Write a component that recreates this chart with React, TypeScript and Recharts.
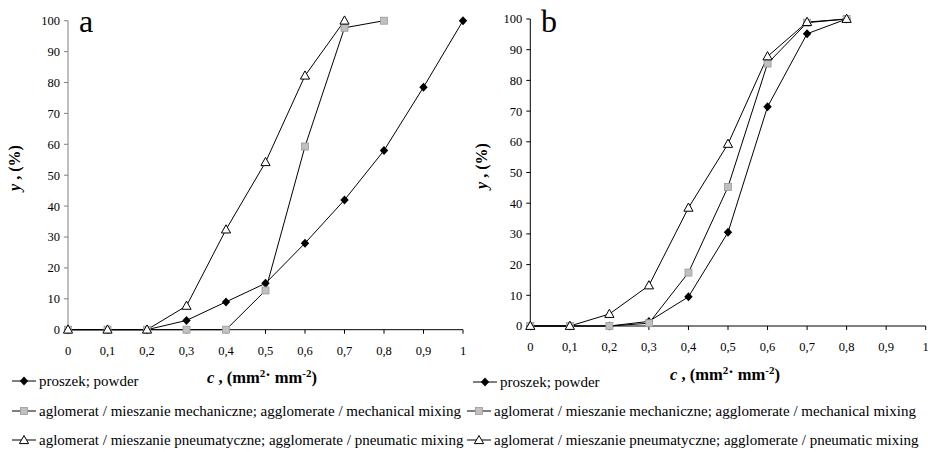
import React from 'react';
import { LineChart, Line, XAxis, YAxis } from 'recharts';

const cValues = [0, 0.1, 0.2, 0.3, 0.4, 0.5, 0.6, 0.7, 0.8, 0.9, 1];
const xTicks = [0, 0.1, 0.2, 0.3, 0.4, 0.5, 0.6, 0.7, 0.8, 0.9, 1];
const yTicks = [0, 10, 20, 30, 40, 50, 60, 70, 80, 90, 100];

// chart a
const aPowder = [0, 0, 0, 3, 9, 15, 28, 42, 58, 78.5, 100];
const aMechanical = [0, 0, 0, 0, 0, 12.7, 59.3, 97.7, 100];
const aPneumatic = [0, 0, 0, 7.7, 32.4, 54.2, 82.2, 100];

// chart b
const bPowder = [0, 0, 0, 1.5, 9.5, 30.5, 71.4, 95.2, 100];
const bMechanical = [0, 0, 0, 0.9, 17.4, 45.3, 85.5, 98.8, 100];
const bPneumatic = [0, 0, 3.9, 13.2, 38.5, 59.3, 87.8, 99, 100];

const seriesNames = [
  'proszek; powder',
  'aglomerat / mieszanie mechaniczne; agglomerate / mechanical mixing',
  'aglomerat / mieszanie pneumatyczne; agglomerate / pneumatic mixing',
];

const buildRows = (p: number[], m: number[], n: number[]) =>
  cValues.map((c, i) => ({ c, powder: p[i], mech: m[i], pneu: n[i] }));

const dataA = buildRows(aPowder, aMechanical, aPneumatic);
const dataB = buildRows(bPowder, bMechanical, bPneumatic);

const FONT = "'Liberation Serif', 'Times New Roman', Times, serif";

const DiamondDot = (props: any) => {
  const { cx, cy, index } = props;
  if (cx == null || cy == null) return <g key={'d' + index} />;
  return (
    <path
      key={'d' + index}
      d={`M${cx},${cy - 4.5}L${cx + 4.2},${cy}L${cx},${cy + 4.5}L${cx - 4.2},${cy}Z`}
      fill="#000"
    />
  );
};
const SquareDot = (props: any) => {
  const { cx, cy, index } = props;
  if (cx == null || cy == null) return <g key={'s' + index} />;
  return (
    <rect key={'s' + index} x={cx - 3.5} y={cy - 3.5} width={7} height={7} fill="#C0C0C0" stroke="#999" strokeWidth={0.8} />
  );
};
const TriangleDot = (props: any) => {
  const { cx, cy, index } = props;
  if (cx == null || cy == null) return <g key={'t' + index} />;
  return (
    <path
      key={'t' + index}
      d={`M${cx},${cy - 4.8}L${cx + 4.6},${cy + 3.4}L${cx - 4.6},${cy + 3.4}Z`}
      fill="#fff"
      stroke="#000"
      strokeWidth={1}
    />
  );
};

const fmt = (v: number) => String(v).replace('.', ',');

type PanelProps = {
  data: any[];
  left: number;
  width: number;
  yAxisWidth: number;
  marginRight: number;
  marginTop: number;
  marginBottom: number;
  yAxisColor: string;
};

const Panel = ({ data, left, width, yAxisWidth, marginRight, marginTop, marginBottom, yAxisColor }: PanelProps) => (
  <div style={{ position: 'absolute', left, top: 0 }}>
    <LineChart
      width={width}
      height={452}
      data={data}
      margin={{ top: marginTop, right: marginRight, left: 0, bottom: marginBottom }}
      style={{ fontFamily: FONT }}
    >
      <XAxis
        dataKey="c"
        type="number"
        domain={[0, 1]}
        ticks={xTicks}
        tickFormatter={fmt}
        tickSize={4}
        tickMargin={12}
        height={30}
        stroke="#000"
        tick={{ fill: '#000', fontSize: 12.5, fontFamily: FONT }}
        interval={0}
      />
      <YAxis
        type="number"
        domain={[0, 100]}
        ticks={yTicks}
        tickSize={4}
        tickMargin={4}
        width={yAxisWidth}
        stroke={yAxisColor}
        tick={{ fill: '#000', fontSize: 12.5, fontFamily: FONT }}
        interval={0}
      />
      <Line dataKey="powder" stroke="#000" strokeWidth={1} dot={DiamondDot} isAnimationActive={false} />
      <Line dataKey="mech" stroke="#000" strokeWidth={1} dot={SquareDot} isAnimationActive={false} />
      <Line dataKey="pneu" stroke="#000" strokeWidth={1} dot={TriangleDot} isAnimationActive={false} />
    </LineChart>
  </div>
);

const LegendMarker = ({ kind }: { kind: number }) => (
  <svg width={26} height={12} style={{ display: 'block', flex: 'none' }}>
    <line x1={1} y1={6} x2={25} y2={6} stroke="#000" strokeWidth={1} />
    {kind === 0 && <path d="M13,1.5L17.2,6L13,10.5L8.8,6Z" fill="#000" />}
    {kind === 1 && <rect x={9.5} y={2.5} width={7} height={7} fill="#C0C0C0" stroke="#999" strokeWidth={0.8} />}
    {kind === 2 && <path d="M13,1.5L17.6,9.6L8.4,9.6Z" fill="#fff" stroke="#000" strokeWidth={1} />}
  </svg>
);

const LegendRow = ({ kind, x, y }: { kind: number; x: number; y: number }) => (
  <div
    style={{
      position: 'absolute',
      left: x,
      top: y - 9,
      height: 18,
      display: 'flex',
      alignItems: 'center',
      whiteSpace: 'nowrap',
      fontFamily: FONT,
      fontSize: 15,
      color: '#000',
    }}
  >
    <LegendMarker kind={kind} />
    <span style={{ marginLeft: 2 }}>{seriesNames[kind]}</span>
  </div>
);

const YTitle = ({ cx, cy }: { cx: number; cy: number }) => (
  <div
    style={{
      position: 'absolute',
      left: cx,
      top: cy,
      transform: 'translate(-50%, -50%) rotate(-90deg)',
      whiteSpace: 'nowrap',
      fontFamily: FONT,
      fontWeight: 'bold',
      fontSize: 16,
      lineHeight: '18px',
    }}
  >
    <i>y</i> , (%)
  </div>
);

const XTitle = ({ cx, cy }: { cx: number; cy: number }) => (
  <div
    style={{
      position: 'absolute',
      left: cx,
      top: cy,
      transform: 'translate(-50%, -50%)',
      whiteSpace: 'nowrap',
      fontFamily: FONT,
      fontWeight: 'bold',
      fontSize: 16.5,
      lineHeight: '20px',
    }}
  >
    <i>c</i> , (mm<sup style={{ fontSize: 11, verticalAlign: '6px' }}>2</sup>
    <span style={{ verticalAlign: '3px' }}>·</span> mm<sup style={{ fontSize: 11, verticalAlign: '6px' }}>-2</sup>)
  </div>
);

const PanelLetter = ({ x, text }: { x: number; text: string }) => (
  <div
    style={{
      position: 'absolute',
      left: x,
      top: 5,
      fontFamily: FONT,
      fontSize: 32,
      lineHeight: '32px',
    }}
  >
    {text}
  </div>
);

export default function App() {
  return (
    <div
      style={{
        position: 'absolute',
        left: 0,
        top: 0,
        width: 928,
        height: 452,
        background: '#fff',
        overflow: 'hidden',
        fontFamily: FONT,
      }}
    >
      <Panel data={dataA} left={0} width={470} yAxisWidth={68} marginRight={7} marginTop={20.7} marginBottom={92.3} yAxisColor="#808080" />
      <Panel data={dataB} left={460} width={468} yAxisWidth={70.3} marginRight={2.3} marginTop={19} marginBottom={96} yAxisColor="#000" />
      <PanelLetter x={79} text="a" />
      <PanelLetter x={541} text="b" />
      <YTitle cx={15} cy={168} />
      <YTitle cx={482} cy={166} />
      <XTitle cx={262} cy={375} />
      <XTitle cx={725} cy={372} />
      <LegendRow kind={0} x={11} y={381} />
      <LegendRow kind={1} x={11} y={411} />
      <LegendRow kind={2} x={11} y={440} />
      <LegendRow kind={0} x={472} y={382} />
      <LegendRow kind={1} x={466} y={411} />
      <LegendRow kind={2} x={466} y={440} />
    </div>
  );
}
